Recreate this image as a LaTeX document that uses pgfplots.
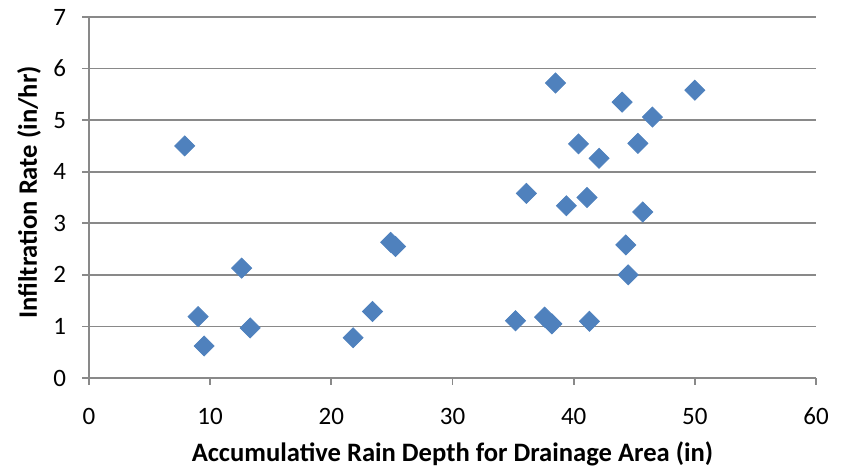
\documentclass[border=0pt]{standalone}
\usepackage{fontspec}
\setmainfont{Carlito}
\usepackage{pgfplots}
\pgfplotsset{compat=1.18}
\definecolor{excelblue}{HTML}{4F81BD}
\definecolor{gridgray}{HTML}{898989}
\begin{document}
\begin{tikzpicture}
\begin{axis}[
  name=main,
  scale only axis,
  width=363.5pt, height=180.5pt,
  xmin=0, xmax=60, ymin=0, ymax=7,
  xtick={0,10,...,60}, ytick={0,1,...,7},
  axis lines*=left,
  axis line style={gridgray, line width=0.9pt},
  ymajorgrids,
  grid style={gridgray, line width=0.9pt},
  tick style={gridgray, line width=0.9pt},
  tick align=outside,
  major tick length=3.5pt,
  /pgf/number format/assume math mode=true,
  ticklabel style={font=\fontsize{12.5}{15}\selectfont, text=black},
  xticklabel style={anchor=base, yshift=-19.75pt},
  yticklabel style={anchor=east, xshift=-4.5pt},
  xlabel={\textbf{Accumulative Rain Depth for Drainage Area (in)}},
  ylabel={\textbf{Infiltration Rate (in/hr)}},
  label style={font=\fontsize{13.3}{15}\selectfont},
  xlabel style={at={(axis description cs:0.5,0)}, anchor=base, yshift=-41.75pt},
  ylabel style={at={(axis description cs:0,0.5)}, anchor=base, rotate=0},
  every axis y label/.append style={yshift=26pt, xshift=2.5pt},
  clip=false,
]
\addplot[only marks, mark=square*, mark size=3.54pt, mark options={rotate=45, fill=excelblue, draw=excelblue}]
coordinates {
(7.9,4.50) (9.0,1.19) (9.5,0.62) (12.6,2.13) (13.3,0.97)
(21.8,0.78) (23.4,1.29) (24.9,2.63) (25.3,2.55)
(35.2,1.11) (36.1,3.58) (37.6,1.18) (38.2,1.05) (38.5,5.72)
(39.4,3.34) (40.4,4.54) (41.1,3.50) (41.3,1.10) (42.1,4.26)
(44.0,5.35) (44.3,2.58) (44.5,2.00) (45.3,4.55) (45.7,3.22)
(46.5,5.06) (50.0,5.58)
};
\end{axis}
\pgfresetboundingbox
\path ([xshift=-44.5pt,yshift=-46.25pt]main.south west) rectangle ([xshift=14.5pt,yshift=8.5pt]main.north east);
\end{tikzpicture}
\end{document}
